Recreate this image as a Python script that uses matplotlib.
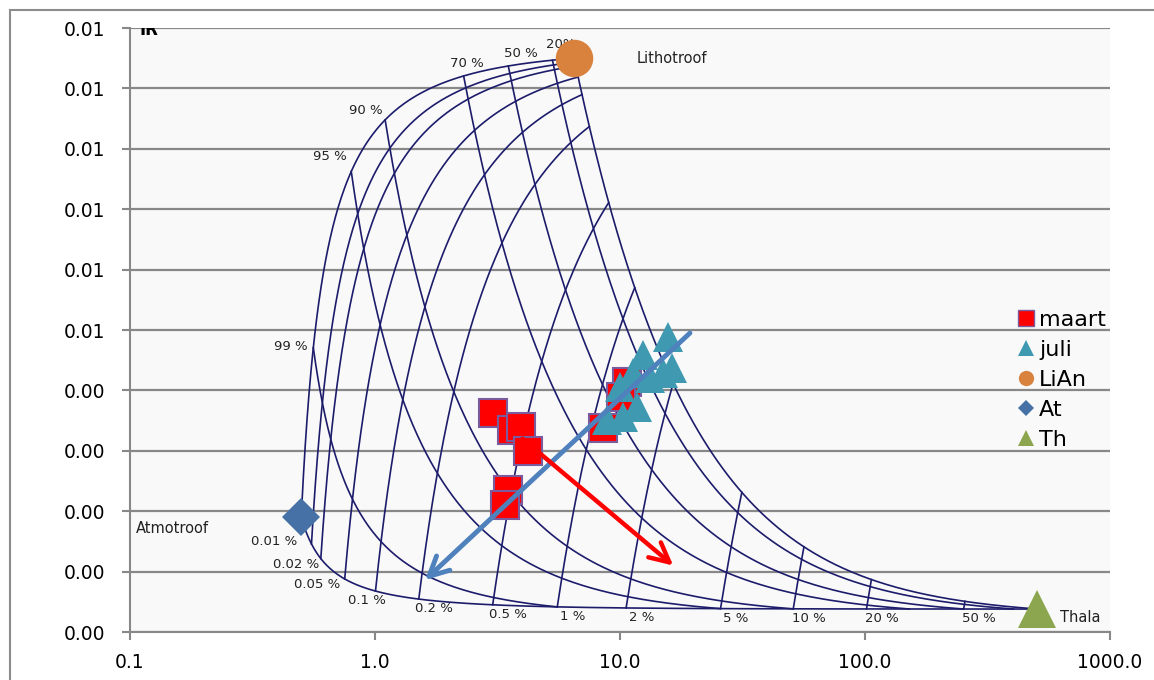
import numpy as np
import matplotlib.pyplot as plt
from matplotlib.lines import Line2D
from matplotlib.patches import Rectangle
from matplotlib.transforms import ScaledTranslation
from matplotlib.ticker import FixedLocator, FormatStrFormatter

# end members: EC and IR
li_ec, li_ir = 6.5, 0.0095
at_ec, at_ir = 0.5, 0.0019
th_ec, th_ir = 505.0, 0.00038
# relative ion load of each end member (controls curvature of the mixing lines)
li_w, at_w, th_w = 58.0, 1.0, 4100.0

# percentage lines of the nomogram
at_pct = [0.20, 0.50, 0.70, 0.90, 0.95, 0.99]
at_pct_txt = ["20%", "50 %", "70 %", "90 %", "95 %", "99 %"]
th_pct = [0.0001, 0.0002, 0.0005, 0.001, 0.002, 0.005, 0.01, 0.02, 0.05, 0.1, 0.2, 0.5]
th_pct_txt = ["0.01 %", "0.02 %", "0.05 %", "0.1 %", "0.2 %", "0.5 %",
              "1 %", "2 %", "5 %", "10 %", "20 %", "50 %"]

# samples
maart_ec = [3.03, 3.62, 3.94, 4.21, 3.49, 3.39, 8.53, 10.7, 10.1]
maart_ir = [0.00363, 0.00334, 0.00339, 0.00300, 0.00235, 0.00210, 0.00338, 0.00414, 0.00389]
juli_ec = [15.7, 12.4, 16.3, 15.0, 11.3, 10.0, 11.7, 10.3, 8.85, 13.2]
juli_ir = [0.00488, 0.00459, 0.00437, 0.00429, 0.00429, 0.00406, 0.00373, 0.00356, 0.00351, 0.00421]

# trend arrows (from, to)
juli_arrow = [(19.3, 0.00495), (1.6, 0.00086)]
maart_arrow = [(4.0, 0.00320), (16.5, 0.00110)]

NAVY = "#1c1c6b"
GRID = "#888888"
TXT = "#222222"


def mix(f_li, f_at, f_th):
    ec = f_li * li_ec + f_at * at_ec + f_th * th_ec
    w = f_li * li_w + f_at * at_w + f_th * th_w
    ir = (f_li * li_w * li_ir + f_at * at_w * at_ir + f_th * th_w * th_ir) / w
    return ec, ir


s = np.unique(np.concatenate([[0, 1], np.logspace(-7, 0, 500), 1 - np.logspace(-7, 0, 500)]))

fig = plt.figure(figsize=(11.54, 6.8), dpi=100)
ax = fig.add_axes([130 / 1154, 48 / 680, 980 / 1154, 604 / 680])
ax.set_facecolor("#f9f9fa")

# outer chart border
fig.patches.append(Rectangle((10 / 1154, -0.1), 1.2, 0.1 + 670 / 680, transform=fig.transFigure,
                             fill=False, edgecolor="#8c8c8c", lw=1.5))

# boundaries of the mixing triangle
ax.plot(*mix(1 - s, s, 0 * s), color=NAVY, lw=1.2, zorder=1)
ax.plot(*mix(0 * s, 1 - s, s), color=NAVY, lw=1.2, zorder=1)
ax.plot(*mix(1 - s, 0 * s, s), color=NAVY, lw=1.2, zorder=1)

# constant atmotroof fraction
for p in at_pct:
    ax.plot(*mix((1 - s) * (1 - p), p + 0 * s, s * (1 - p)), color=NAVY, lw=1.2, zorder=1)
# constant thalassotroof fraction
for q in th_pct:
    ax.plot(*mix(s * (1 - q), (1 - s) * (1 - q), q + 0 * s), color=NAVY, lw=1.2, zorder=1)


def offset_text(x, y, txt, dx, dy, **kw):
    tr = ax.transData + ScaledTranslation(dx / 72, dy / 72, fig.dpi_scale_trans)
    return ax.text(x, y, txt, transform=tr, color=TXT, clip_on=True, **kw)


at_off = [(6, 11), (9, 9), (2, 9), (-1.5, 7), (-3, 11), (-4, 1)]
for p, txt, (dx, dy) in zip(at_pct, at_pct_txt, at_off):
    ha = "center" if p <= 0.7 else "right"
    offset_text(*mix(1 - p, p, 0), txt, dx, dy, fontsize=9.5, ha=ha, va="center", zorder=2)

th_off = [(-10, 1.5), (-1, -4), (-3, -4), (-6.5, -7)] + [(11, -7)] * 8
for q, txt, (dx, dy) in zip(th_pct, th_pct_txt, th_off):
    ha = "right" if q < 0.001 else "center"
    offset_text(*mix(0, 1 - q, q), txt, dx, dy, fontsize=9.5, ha=ha, va="center", zorder=2)

offset_text(li_ec, li_ir, "Lithotroof", 45, 0, fontsize=10.5, ha="left", va="center")
offset_text(at_ec, at_ir, "Atmotroof", -119, -8, fontsize=10.5, ha="left", va="center")
offset_text(th_ec, th_ir, "Thala", 16, -6, fontsize=10.5, ha="left", va="center")
ax.text(0.01, 0.988, "IR", transform=ax.transAxes, fontsize=12, fontweight="bold",
        va="baseline", ha="left", clip_on=True)

# samples and end members
sty = {
    "maart": dict(marker="s", color="#ff0000", mec="#7a5c9e", mew=1.5),
    "juli": dict(marker="^", color="#3f9ab1", mec="#3f9ab1", mew=0),
    "LiAn": dict(marker="o", color="#d9823d", mec="#d9823d", mew=0),
    "At": dict(marker="D", color="#4571a6", mec="#4571a6", mew=0),
    "Th": dict(marker="^", color="#8ba64e", mec="#8ba64e", mew=0),
}
ax.plot(maart_ec, maart_ir, ls="none", ms=19.5, zorder=4, **sty["maart"])
ax.plot(juli_ec, juli_ir, ls="none", ms=22, zorder=5, **sty["juli"])
ax.plot([li_ec], [li_ir], ls="none", ms=27, zorder=5, **sty["LiAn"])
ax.plot([at_ec], [at_ir], ls="none", ms=19, zorder=5, **sty["At"])
ax.plot([th_ec], [th_ir], ls="none", ms=27, zorder=5, **sty["Th"])

ax.annotate("", xy=juli_arrow[1], xytext=juli_arrow[0],
            arrowprops=dict(arrowstyle="->,head_length=1.4,head_width=0.7", color="#4f81bd", lw=3.5,
                            shrinkA=0, shrinkB=0), zorder=6)
ax.annotate("", xy=maart_arrow[1], xytext=maart_arrow[0],
            arrowprops=dict(arrowstyle="->,head_length=1.4,head_width=0.7", color="#ff0000", lw=3.2,
                            shrinkA=0, shrinkB=0), zorder=6)

# axes
ax.set_xscale("log")
ax.set_xlim(0.1, 1000)
ax.set_ylim(0, 0.010)
ax.xaxis.set_major_locator(FixedLocator([0.1, 1, 10, 100, 1000]))
ax.xaxis.set_minor_locator(FixedLocator([]))
ax.xaxis.set_major_formatter(FormatStrFormatter("%.1f"))
ax.yaxis.set_major_locator(FixedLocator([i / 1000 for i in range(11)]))
ax.yaxis.set_major_formatter(FormatStrFormatter("%.2f"))
ax.grid(axis="y", color=GRID, lw=1.6)
ax.set_axisbelow(True)
for side in ["top", "right"]:
    ax.spines[side].set_visible(False)
for side in ["left", "bottom"]:
    ax.spines[side].set_color(GRID)
    ax.spines[side].set_linewidth(1.5)
ax.tick_params(axis="both", colors=GRID, labelcolor="black", labelsize=13.5, width=1.5, length=6)
ax.tick_params(axis="y", pad=12)
ax.tick_params(axis="x", pad=9)

handles = [Line2D([], [], ls="none", ms=11 if k != "At" else 8, **{**sty[k], "mew": 1 if k == "maart" else 0})
           for k in sty]
ax.legend(handles, list(sty), loc="upper left", bbox_to_anchor=(1018 / 1154, 1 - 310 / 680),
          bbox_transform=fig.transFigure, frameon=False, fontsize=16, handlelength=0.7,
          handletextpad=0.25, labelspacing=0.45, borderpad=0, borderaxespad=0)

fig.savefig("out.png", dpi=100)
